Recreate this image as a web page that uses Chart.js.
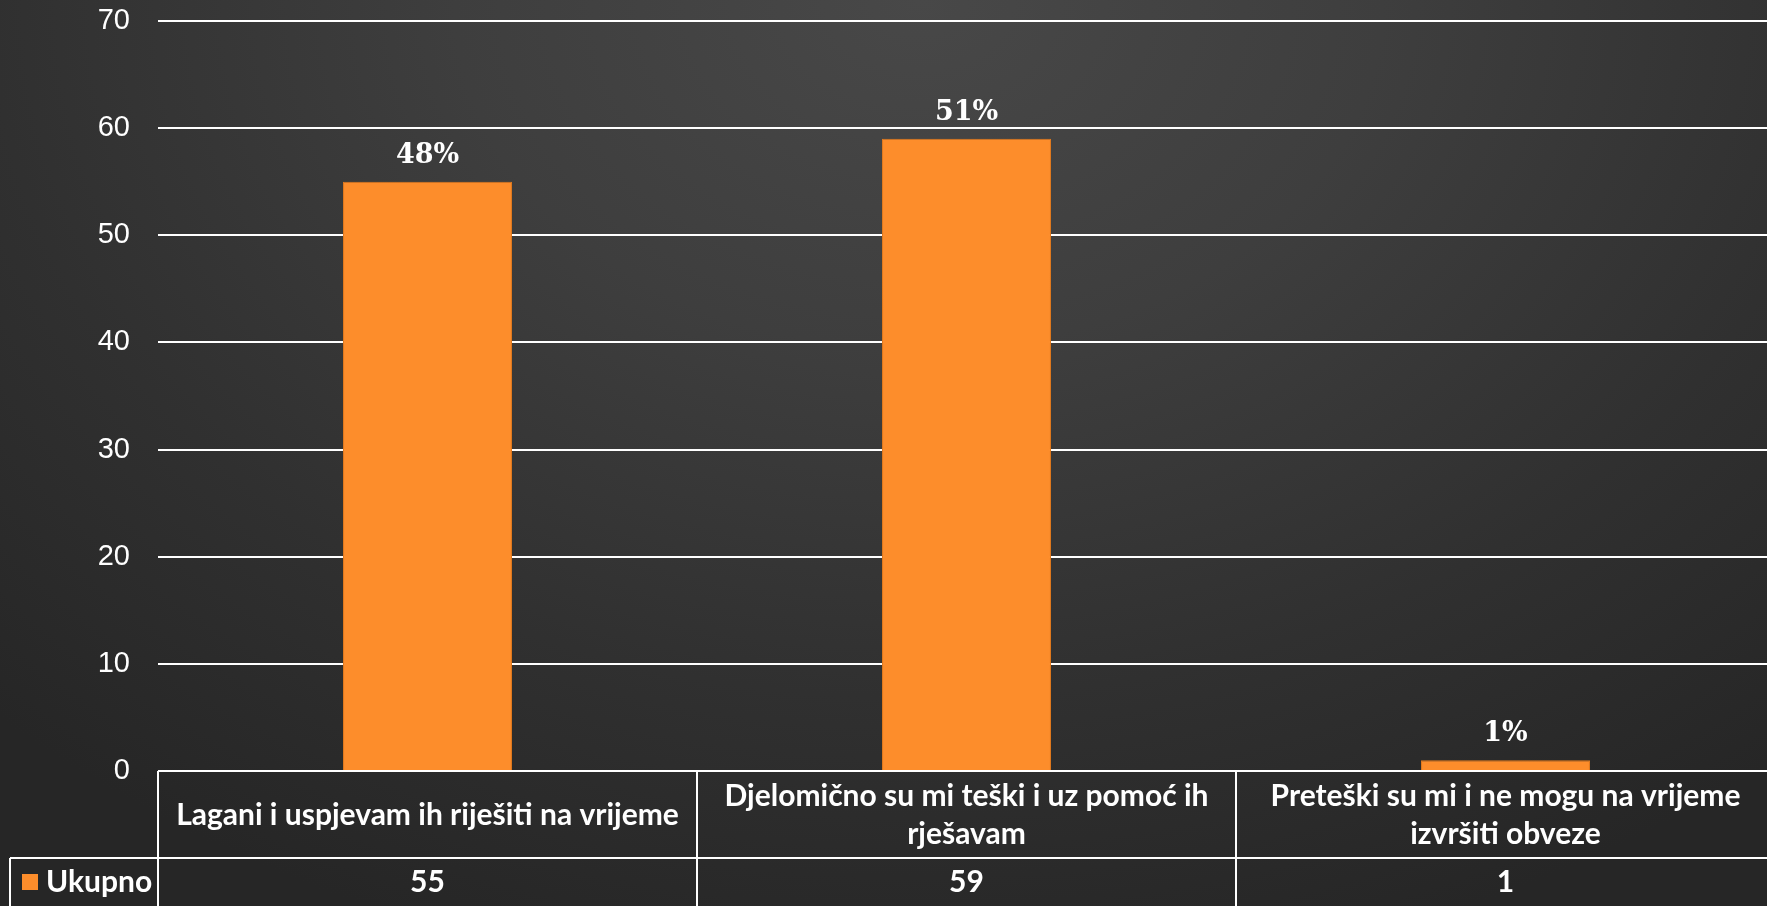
<!DOCTYPE html>
<html>
<head>
<meta charset="utf-8">
<script src="https://cdn.jsdelivr.net/npm/chart.js@4/dist/chart.umd.min.js"></script>
<style>
  html, body { margin: 0; padding: 0; width: 1767px; height: 906px; overflow: hidden; }
  body { background: radial-gradient(ellipse 75% 110% at 52% 0%, #484848 0%, #3e3e3e 35%, #303030 70%, #262626 100%); }
  #wrap { position: absolute; left: 0; top: 0; width: 1776px; height: 906px; }
</style>
</head>
<body>
<div id="wrap"><canvas id="c"></canvas></div>
<script>
// ---- data ----
const categories = [
  ['Lagani i uspjevam ih riješiti na vrijeme'],
  ['Djelomično su mi teški i uz pomoć ih', 'rješavam'],
  ['Preteški su mi i ne mogu na vrijeme', 'izvršiti obveze']
];
const seriesName = 'Ukupno';
const values = [55, 59, 1];
const yTicks = [0, 10, 20, 30, 40, 50, 60, 70];

const total = values.reduce((a, b) => a + b, 0);
const ORANGE = '#fd8d2b';
const TABLE_FONT = 'bold 30px Lato';

const labelsPlugin = {
  id: 'barLabels',
  afterDatasetsDraw(chart) {
    const ctx = chart.ctx;
    const meta = chart.getDatasetMeta(0);
    ctx.save();
    ctx.fillStyle = '#ffffff';
    ctx.font = 'bold 27px "DejaVu Serif"';
    ctx.textAlign = 'center';
    ctx.textBaseline = 'alphabetic';
    meta.data.forEach((bar, i) => {
      const pct = Math.round(values[i] / total * 100) + '%';
      ctx.fillText(pct, bar.x, bar.y - 19);
    });
    ctx.restore();
  }
};

const tablePlugin = {
  id: 'dataTable',
  afterDraw(chart) {
    const ctx = chart.ctx;
    const x = chart.scales.x;
    const area = chart.chartArea;
    const n = categories.length;
    const cw = (area.right - area.left) / n;
    const top = area.bottom;
    const mid = top + 87;
    const bottom = chart.height + 5;
    const legendLeft = 10;
    ctx.save();
    ctx.strokeStyle = '#ffffff';
    ctx.lineWidth = 2;
    ctx.beginPath();
    ctx.moveTo(area.left, top); ctx.lineTo(area.right, top);
    ctx.moveTo(legendLeft, mid); ctx.lineTo(area.right, mid);
    for (let i = 0; i <= n; i++) {
      const xx = area.left + i * cw;
      ctx.moveTo(xx, top); ctx.lineTo(xx, bottom);
    }
    ctx.moveTo(legendLeft, mid); ctx.lineTo(legendLeft, bottom);
    ctx.stroke();

    ctx.fillStyle = '#ffffff';
    ctx.font = TABLE_FONT;
    ctx.textAlign = 'center';
    ctx.textBaseline = 'middle';
    const lineH = 38;
    categories.forEach((lines, i) => {
      const cx = x.getPixelForValue(i);
      const cy = (top + mid) / 2;
      const y0 = cy - (lines.length - 1) * lineH / 2;
      lines.forEach((ln, k) => ctx.fillText(ln, cx, y0 + k * lineH + 1));
      ctx.fillText(String(values[i]), cx, mid + 24);
    });
    ctx.fillStyle = ORANGE;
    ctx.fillRect(22, mid + 16, 16, 16);
    ctx.fillStyle = '#ffffff';
    ctx.textAlign = 'left';
    ctx.fillText(seriesName, 46, mid + 24);
    ctx.restore();
  }
};

new Chart(document.getElementById('c'), {
  type: 'bar',
  data: {
    labels: categories,
    datasets: [{
      label: seriesName,
      data: values,
      backgroundColor: ORANGE,
      borderColor: '#e27a1e',
      borderWidth: 1,
      categoryPercentage: 1,
      barPercentage: 0.3135
    }]
  },
  options: {
    responsive: true,
    maintainAspectRatio: false,
    animation: false,
    layout: { padding: { top: 21, bottom: 135, left: 0, right: 1 } },
    plugins: { legend: { display: false }, tooltip: { enabled: false } },
    scales: {
      x: { display: false },
      y: {
        min: 0, max: 70,
        afterBuildTicks(scale) { scale.ticks = yTicks.map(v => ({ value: v })); },
        afterFit(scale) { scale.width = 158; },
        border: { display: false },
        grid: { color: '#ffffff', lineWidth: 2, drawTicks: true, tickLength: 28, tickColor: 'rgba(0,0,0,0)' },
        ticks: {
          color: '#ffffff',
          padding: 0,
          font: { family: '"Liberation Sans"', size: 29 }
        }
      }
    }
  },
  plugins: [labelsPlugin, tablePlugin]
});
</script>
</body>
</html>
